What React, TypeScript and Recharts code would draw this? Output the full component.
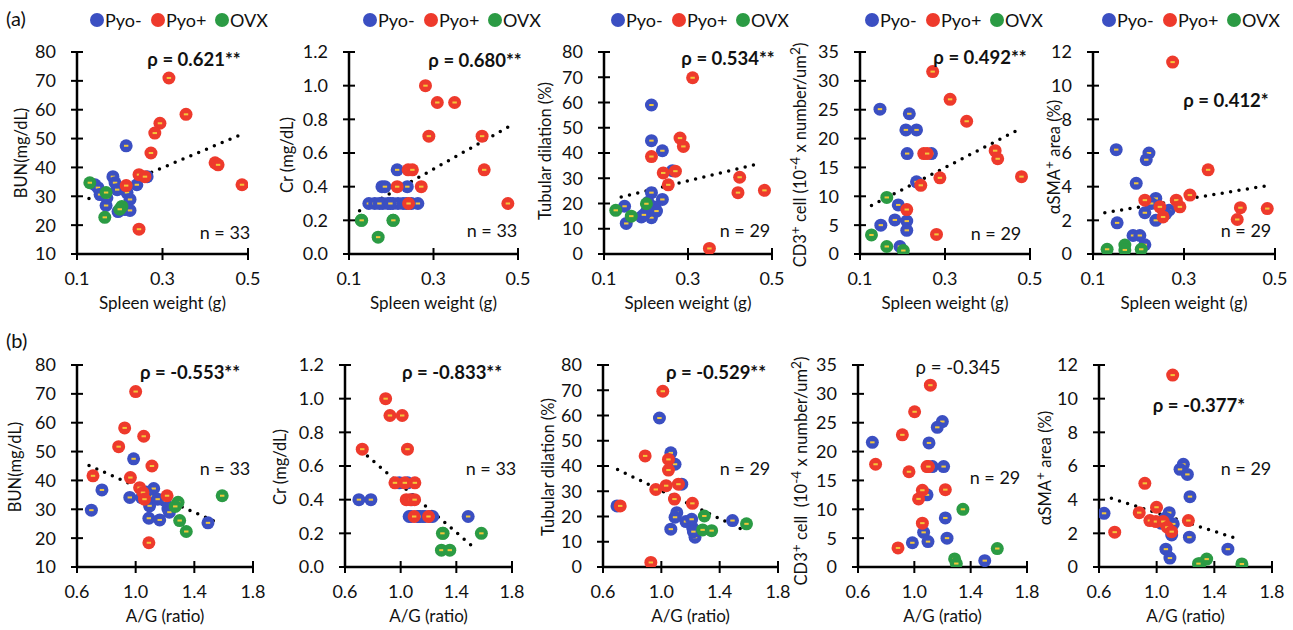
import { ReferenceLine, Scatter, ScatterChart, XAxis, YAxis } from "recharts";

// tick values
const SPLEEN_TICKS = [0.1, 0.3, 0.5];
const AG_TICKS = [0.6, 1.0, 1.4, 1.8];
const BUN_TICKS = [10, 20, 30, 40, 50, 60, 70, 80];
const CR_TICKS = [0, 0.2, 0.4, 0.6, 0.8, 1.0, 1.2];
const TUB_TICKS = [0, 10, 20, 30, 40, 50, 60, 70, 80];
const CD3_TICKS = [0, 5, 10, 15, 20, 25, 30, 35];
const SMA_TICKS = [0, 2, 4, 6, 8, 10, 12];

const GROUPS = ["Pyo-", "Pyo+", "OVX"];
const COLORS = ["#3b4fc2", "#ee3a2c", "#2b9b44"];

// (a) spleen weight vs ...
const A1_NEG = [[0.215, 47.5], [0.142, 34], [0.149, 33], [0.154, 30.6], [0.168, 26.8], [0.184, 36.8], [0.189, 34.7], [0.194, 32.3], [0.217, 31.3], [0.224, 28.9], [0.212, 25.4], [0.196, 24.7], [0.224, 25.1], [0.24, 34], [0.264, 36.8], [0.17, 29.5]];
const A1_POS = [[0.315, 71], [0.355, 58.4], [0.294, 55.3], [0.282, 51.9], [0.273, 45], [0.423, 41.6], [0.43, 40.9], [0.486, 34], [0.245, 37.5], [0.259, 36.8], [0.215, 33.7], [0.245, 18.6]];
const A1_OVX = [[0.13, 34.7], [0.168, 31.3], [0.205, 26.5], [0.2, 25.5], [0.165, 22.7]];
const A1_TREND = [[0.128, 29.2], [0.481, 51.2]];

const A2_NEG = [[0.214, 0.5], [0.178, 0.4], [0.238, 0.4], [0.147, 0.3], [0.161, 0.3], [0.18, 0.3], [0.192, 0.3], [0.204, 0.3], [0.216, 0.3], [0.228, 0.3], [0.248, 0.3], [0.263, 0.3], [0.172, 0.3], [0.198, 0.3], [0.236, 0.3], [0.185, 0.4]];
const A2_POS = [[0.281, 1.0], [0.309, 0.9], [0.35, 0.9], [0.289, 0.7], [0.415, 0.7], [0.42, 0.5], [0.476, 0.3], [0.24, 0.5], [0.25, 0.5], [0.214, 0.4], [0.271, 0.4], [0.241, 0.3]];
const A2_OVX = [[0.129, 0.2], [0.204, 0.2], [0.169, 0.1], [0.13, 0.2], [0.205, 0.2]];
const A2_TREND = [[0.125, 0.257], [0.48, 0.759]];

const A3_NEG = [[0.213, 59], [0.213, 44.9], [0.239, 40.9], [0.263, 33], [0.213, 24.3], [0.239, 21.6], [0.221, 18.6], [0.149, 18.9], [0.153, 12.1], [0.189, 14.7], [0.213, 14.4], [0.201, 16.7], [0.225, 17], [0.205, 20.5], [0.195, 15.5]];
const A3_POS = [[0.311, 69.8], [0.281, 45.9], [0.289, 42.6], [0.213, 38.6], [0.241, 32.1], [0.27, 32.8], [0.253, 27.4], [0.423, 30.4], [0.419, 24.3], [0.482, 25.2], [0.351, 2.2]];
const A3_OVX = [[0.128, 17.3], [0.165, 15], [0.201, 19.9]];
const A3_TREND = [[0.141, 22.6], [0.472, 35.9]];

const A4_NEG = [[0.147, 25.1], [0.216, 24.3], [0.208, 21.5], [0.233, 21.5], [0.211, 17.4], [0.268, 17.4], [0.233, 12.5], [0.19, 8.5], [0.182, 5.9], [0.21, 5.7], [0.21, 4.1], [0.149, 5], [0.194, 1.3]];
const A4_POS = [[0.271, 31.6], [0.312, 26.8], [0.351, 23], [0.25, 17.4], [0.258, 17.4], [0.418, 17.9], [0.424, 16.5], [0.48, 13.4], [0.288, 13.2], [0.243, 11.9], [0.21, 7.7], [0.28, 3.4]];
const A4_OVX = [[0.163, 9.8], [0.127, 3.3], [0.163, 1.3], [0.202, 0.6]];
const A4_TREND = [[0.127, 8.4], [0.469, 21.4]];

const A5_NEG = [[0.151, 6.2], [0.223, 6], [0.217, 5.6], [0.195, 4.2], [0.238, 3.3], [0.214, 2.45], [0.267, 2.6], [0.238, 2], [0.153, 1.85], [0.188, 1.1], [0.203, 1.1], [0.214, 0.55], [0.228, 3.0], [0.26, 2.4]];
const A5_POS = [[0.275, 11.4], [0.353, 5], [0.313, 3.5], [0.283, 3.2], [0.291, 2.8], [0.214, 3.2], [0.247, 2.8], [0.254, 2.2], [0.424, 2.75], [0.417, 2.05], [0.483, 2.7]];
const A5_OVX = [[0.131, 0.28], [0.17, 0.53], [0.17, 0.24], [0.206, 0.28]];
const A5_TREND = [[0.126, 2.45], [0.485, 4.07]];

// (b) A/G ratio vs ...
const B1_NEG = [[0.986, 47.5], [0.77, 36.7], [0.96, 34.1], [0.698, 29.7], [1.123, 37.2], [1.095, 31.2], [1.09, 26.9], [1.164, 26.3], [1.22, 30.1], [1.2, 33], [1.493, 25.3], [1.1, 34.5], [1.07, 36], [1.23, 29], [1.15, 33.5], [1.04, 34]];
const B1_POS = [[1.0, 70.8], [0.925, 58.2], [1.055, 55.3], [0.884, 51.7], [1.111, 45], [0.709, 41.6], [0.964, 41], [1.027, 37.5], [1.05, 35.8], [1.06, 33.5], [1.214, 34.7], [1.09, 18.4]];
const B1_OVX = [[1.289, 32.4], [1.3, 26.1], [1.345, 22.3], [1.59, 34.7], [1.27, 31]];
const B1_TREND = [[0.682, 45.2], [1.561, 25.3]];

const B2_NEG = [[0.7, 0.4], [0.786, 0.4], [1.061, 0.3], [1.138, 0.3], [1.16, 0.3], [1.485, 0.3], [0.99, 0.5], [1.075, 0.3], [1.12, 0.3], [1.175, 0.3], [1.21, 0.3], [1.05, 0.5], [1.08, 0.4], [1.13, 0.3], [1.23, 0.3]];
const B2_POS = [[0.892, 1.0], [0.923, 0.9], [1.011, 0.9], [0.724, 0.7], [1.049, 0.7], [0.959, 0.5], [1.03, 0.5], [1.102, 0.5], [1.04, 0.4], [1.07, 0.4], [1.1, 0.4], [1.097, 0.3], [1.2, 0.3]];
const B2_OVX = [[1.305, 0.2], [1.58, 0.2], [1.293, 0.1], [1.353, 0.1], [1.3, 0.2]];
const B2_TREND = [[0.715, 0.692], [1.544, 0.103]];

const B3_NEG = [[0.987, 59], [1.065, 45.2], [1.094, 40.7], [1.14, 32.8], [0.696, 24.2], [1.106, 21.5], [1.094, 19.7], [1.169, 18], [1.208, 18.9], [1.065, 15], [1.215, 15.4], [1.231, 11.8], [1.488, 18.4], [1.22, 14]];
const B3_POS = [[1.01, 69.6], [0.889, 44], [1.049, 42.6], [1.049, 38.4], [1.033, 32.2], [1.117, 32.8], [0.962, 30.7], [1.09, 26.9], [1.213, 25.2], [0.718, 24.2], [0.928, 1.8]];
const B3_OVX = [[1.295, 20.2], [1.283, 14.7], [1.345, 14.4], [1.584, 17.1]];
const B3_TREND = [[0.7, 38.6], [1.561, 14.7]];

const B4_NEG = [[0.702, 21.6], [1.199, 25.2], [1.163, 24.2], [1.104, 21.5], [1.128, 17.4], [1.208, 17.4], [1.09, 12.5], [1.22, 8.5], [1.232, 5], [1.066, 6], [1.097, 4.4], [0.986, 4.2], [1.5, 1.1]];
const B4_POS = [[1.114, 31.5], [1.002, 26.9], [0.915, 22.9], [0.725, 17.8], [0.962, 16.5], [1.09, 17.4], [1.22, 13.4], [1.057, 13.3], [1.03, 11.8], [1.057, 7.6], [0.884, 3.3], [1.1, 17.4]];
const B4_OVX = [[1.345, 10], [1.589, 3.2], [1.286, 1.4], [1.298, 0.6]];

const B5_NEG = [[1.185, 6.1], [1.162, 5.8], [1.213, 5.5], [1.231, 4.18], [0.635, 3.19], [1.087, 3.23], [1.115, 2.56], [1.03, 2.6], [1.104, 1.9], [1.227, 1.77], [1.064, 1.06], [1.092, 0.53], [1.494, 1.06], [1.06, 2.9]];
const B5_POS = [[1.111, 11.4], [0.918, 4.97], [0.999, 3.55], [0.879, 3.23], [0.953, 2.76], [0.995, 2.7], [1.046, 2.7], [1.074, 2.36], [1.104, 2.1], [1.22, 2.76], [0.709, 2.07]];
const B5_OVX = [[1.301, 0.2], [1.347, 0.47], [1.591, 0.18], [1.29, 0.2]];
const B5_TREND = [[0.686, 4.08], [1.58, 1.62]];

const FONT = "Lato, 'Open Sans', sans-serif";

const toPts = (arr: number[][]) => arr.map(([x, y]) => ({ x, y }));

const CD3_LABEL = (
  <>CD3<sup>+</sup> cell (10<sup>-4</sup> x number/um<sup>2</sup>)</>
);
const CD3_LABEL_B = (
  <>CD3<sup>+</sup> cell&nbsp; (10<sup>-4</sup> x number/um<sup>2</sup>)</>
);
const SMA_LABEL = <>αSMA<sup>+</sup> area (%)</>;

type Panel = {
  left: number; right: number; top: number; bottom: number; rowTop: number;
  xTicks: number[]; yTicks: number[]; yDigits: number;
  groups: number[][][]; trend?: number[][];
  yLabel: any; yLabelAt: [number, number];
  xLabel: string; xLabelY: number;
  rho: string; rhoBold: boolean; rhoAt: [number, number];
  nText: string; nAt: [number, number];
  legendX?: number;
};

const PANELS: Panel[] = [
  { left: 77, right: 248, top: 52, bottom: 254, rowTop: 0, xTicks: SPLEEN_TICKS, yTicks: BUN_TICKS, yDigits: 0, groups: [A1_NEG, A1_POS, A1_OVX], trend: A1_TREND, yLabel: "BUN(mg/dL)", yLabelAt: [21, 153], xLabel: "Spleen weight (g)", xLabelY: 302, rho: "ρ = 0.621**", rhoBold: true, rhoAt: [194, 59], nText: "n = 33", nAt: [225, 232], legendX: 97 },
  { left: 349, right: 518, top: 52, bottom: 254, rowTop: 0, xTicks: SPLEEN_TICKS, yTicks: CR_TICKS, yDigits: 1, groups: [A2_NEG, A2_POS, A2_OVX], trend: A2_TREND, yLabel: "Cr (mg/dL)", yLabelAt: [287, 155], xLabel: "Spleen weight (g)", xLabelY: 302, rho: "ρ = 0.680**", rhoBold: true, rhoAt: [475, 60], nText: "n = 33", nAt: [492, 230], legendX: 370 },
  { left: 604, right: 772, top: 52, bottom: 254, rowTop: 0, xTicks: SPLEEN_TICKS, yTicks: TUB_TICKS, yDigits: 0, groups: [A3_NEG, A3_POS, A3_OVX], trend: A3_TREND, yLabel: "Tubular dilation (%)", yLabelAt: [545, 151], xLabel: "Spleen weight (g)", xLabelY: 302, rho: "ρ = 0.534**", rhoBold: true, rhoAt: [728, 58], nText: "n = 29", nAt: [745, 230], legendX: 618 },
  { left: 860, right: 1030, top: 52, bottom: 254, rowTop: 0, xTicks: SPLEEN_TICKS, yTicks: CD3_TICKS, yDigits: 0, groups: [A4_NEG, A4_POS, A4_OVX], trend: A4_TREND, yLabel: CD3_LABEL, yLabelAt: [798, 155], xLabel: "Spleen weight (g)", xLabelY: 302, rho: "ρ = 0.492**", rhoBold: true, rhoAt: [980, 57], nText: "n = 29", nAt: [996, 233], legendX: 872 },
  { left: 1093, right: 1275, top: 52, bottom: 254, rowTop: 0, xTicks: SPLEEN_TICKS, yTicks: SMA_TICKS, yDigits: 0, groups: [A5_NEG, A5_POS, A5_OVX], trend: A5_TREND, yLabel: SMA_LABEL, yLabelAt: [1052, 157], xLabel: "Spleen weight (g)", xLabelY: 302, rho: "ρ = 0.412*", rhoBold: true, rhoAt: [1226, 100], nText: "n = 29", nAt: [1246, 230], legendX: 1109 },
  { left: 77, right: 253, top: 365, bottom: 567, rowTop: 315, xTicks: AG_TICKS, yTicks: BUN_TICKS, yDigits: 0, groups: [B1_NEG, B1_POS, B1_OVX], trend: B1_TREND, yLabel: "BUN(mg/dL)", yLabelAt: [15, 467], xLabel: "A/G (ratio)", xLabelY: 615, rho: "ρ = -0.553**", rhoBold: true, rhoAt: [190, 372], nText: "n = 33", nAt: [225, 468] },
  { left: 345, right: 512, top: 365, bottom: 567, rowTop: 315, xTicks: AG_TICKS, yTicks: CR_TICKS, yDigits: 1, groups: [B2_NEG, B2_POS, B2_OVX], trend: B2_TREND, yLabel: "Cr (mg/dL)", yLabelAt: [280, 467], xLabel: "A/G (ratio)", xLabelY: 615, rho: "ρ = -0.833**", rhoBold: true, rhoAt: [452, 372], nText: "n = 33", nAt: [491, 468] },
  { left: 603, right: 778, top: 365, bottom: 567, rowTop: 315, xTicks: AG_TICKS, yTicks: TUB_TICKS, yDigits: 0, groups: [B3_NEG, B3_POS, B3_OVX], trend: B3_TREND, yLabel: "Tubular dilation (%)", yLabelAt: [548, 467], xLabel: "A/G (ratio)", xLabelY: 615, rho: "ρ = -0.529**", rhoBold: true, rhoAt: [716, 372], nText: "n = 29", nAt: [745, 468] },
  { left: 858, right: 1027, top: 365, bottom: 567, rowTop: 315, xTicks: AG_TICKS, yTicks: CD3_TICKS, yDigits: 0, groups: [B4_NEG, B4_POS, B4_OVX], yLabel: CD3_LABEL_B, yLabelAt: [799, 471], xLabel: "A/G (ratio)", xLabelY: 615, rho: "ρ = -0.345", rhoBold: false, rhoAt: [958, 367], nText: "n = 29", nAt: [995, 477] },
  { left: 1099, right: 1272, top: 365, bottom: 567, rowTop: 315, xTicks: AG_TICKS, yTicks: SMA_TICKS, yDigits: 0, groups: [B5_NEG, B5_POS, B5_OVX], trend: B5_TREND, yLabel: SMA_LABEL, yLabelAt: [1043, 468], xLabel: "A/G (ratio)", xLabelY: 615, rho: "ρ = -0.377*", rhoBold: true, rhoAt: [1199, 405], nText: "n = 29", nAt: [1246, 468] },
];

const AXIS_W = 50;
const ROW_H = 315;
const RIGHT_PAD = 20;

function YTick(props: any) {
  const { x, y, payload, digits } = props;
  return (
    <g>
      <line x1={x - 6} x2={x + 6} y1={y} y2={y} stroke="#000" strokeWidth={2} />
      <text x={x - 21} y={y} dy="0.36em" textAnchor="end" fontSize={18} fontFamily={FONT} fill="#111">
        {Number(payload.value).toFixed(digits)}
      </text>
    </g>
  );
}

function XTick(props: any) {
  const { x, y, payload } = props;
  return (
    <g>
      <line x1={x} x2={x} y1={y - 6} y2={y + 6} stroke="#000" strokeWidth={2} />
      <text x={x} y={y + 25} dy="0.36em" textAnchor="middle" fontSize={18} fontFamily={FONT} fill="#111">
        {Number(payload.value).toFixed(1)}
      </text>
    </g>
  );
}

const makeDot = (color: string) => (props: any) => {
  const { cx, cy } = props;
  return (
    <g>
      <circle cx={cx} cy={cy} r={6.5} fill={color} />
      <rect x={cx - 2.2} y={cy - 1} width={4.4} height={2} fill="#f3c73a" />
    </g>
  );
};

const center = (x: number, y: number, rotate = false): React.CSSProperties => ({
  position: "absolute",
  left: x,
  top: y,
  transform: rotate ? "translate(-50%, -50%) rotate(-90deg)" : "translate(-50%, -50%)",
  whiteSpace: "nowrap",
  lineHeight: 1,
});

function PanelChart({ p }: { p: Panel }) {
  const chartLeft = p.left - AXIS_W;
  const width = p.right - p.left + AXIS_W + RIGHT_PAD;
  const xDomain = [p.xTicks[0], p.xTicks[p.xTicks.length - 1]];
  const yDomain = [p.yTicks[0], p.yTicks[p.yTicks.length - 1]];
  return (
    <>
      <div style={{ position: "absolute", left: chartLeft, top: p.rowTop }}>
        <ScatterChart
          width={width}
          height={ROW_H}
          margin={{ top: p.top - p.rowTop, right: RIGHT_PAD, bottom: 0, left: 0 }}
        >
          <XAxis
            type="number"
            dataKey="x"
            domain={xDomain}
            ticks={p.xTicks}
            allowDataOverflow
            height={p.rowTop + ROW_H - p.bottom}
            axisLine={{ stroke: "#000", strokeWidth: 2.5 }}
            tickLine={false}
            tickSize={0}
            tickMargin={0}
            tick={(t: any) => <XTick {...t} />}
          />
          <YAxis
            type="number"
            dataKey="y"
            domain={yDomain}
            ticks={p.yTicks}
            allowDataOverflow
            width={AXIS_W}
            axisLine={{ stroke: "#000", strokeWidth: 2.5 }}
            tickLine={false}
            tickSize={0}
            tickMargin={0}
            tick={(t: any) => <YTick {...t} digits={p.yDigits} />}
          />
          {p.groups.map((g, i) => (
            <Scatter
              key={GROUPS[i]}
              name={GROUPS[i]}
              data={toPts(g)}
              fill={COLORS[i]}
              shape={makeDot(COLORS[i])}
              isAnimationActive={false}
            />
          ))}
          {p.trend && (
            <ReferenceLine
              segment={toPts(p.trend)}
              stroke="#000"
              strokeWidth={3.5}
              strokeDasharray="0 8.5"
              strokeLinecap="round"
              ifOverflow="visible"
            />
          )}
        </ScatterChart>
      </div>
      <div style={{ ...center(p.yLabelAt[0], p.yLabelAt[1], true), fontSize: 16.5 }}>{p.yLabel}</div>
      <div style={{ ...center((p.left + p.right) / 2, p.xLabelY), fontSize: 17 }}>{p.xLabel}</div>
      <div style={{ ...center(p.rhoAt[0], p.rhoAt[1]), fontSize: 18.5, fontWeight: p.rhoBold ? 700 : 400 }}>{p.rho}</div>
      <div style={{ ...center(p.nAt[0], p.nAt[1]), fontSize: 18 }}>{p.nText}</div>
      {p.legendX !== undefined &&
        GROUPS.map((g, i) => (
          <div
            key={g}
            style={{ position: "absolute", left: p.legendX! + [0, 61, 125][i] - 7, top: 11, display: "flex", alignItems: "center", fontSize: 18, lineHeight: 1 }}
          >
            <span style={{ width: 14, height: 14, borderRadius: 7, background: COLORS[i], display: "inline-block", marginRight: 1 }} />
            <span>{g}</span>
          </div>
        ))}
    </>
  );
}

export default function App() {
  return (
    <div style={{ position: "absolute", left: 0, top: 0, width: 1293, height: 630, background: "#fff", fontFamily: FONT, color: "#111", overflow: "hidden" }}>
      <div style={{ position: "absolute", left: 6, top: 8, fontSize: 20, lineHeight: 1 }}>(a)</div>
      <div style={{ position: "absolute", left: 6, top: 330, fontSize: 20, lineHeight: 1 }}>(b)</div>
      {PANELS.map((p, i) => (
        <PanelChart key={i} p={p} />
      ))}
    </div>
  );
}
